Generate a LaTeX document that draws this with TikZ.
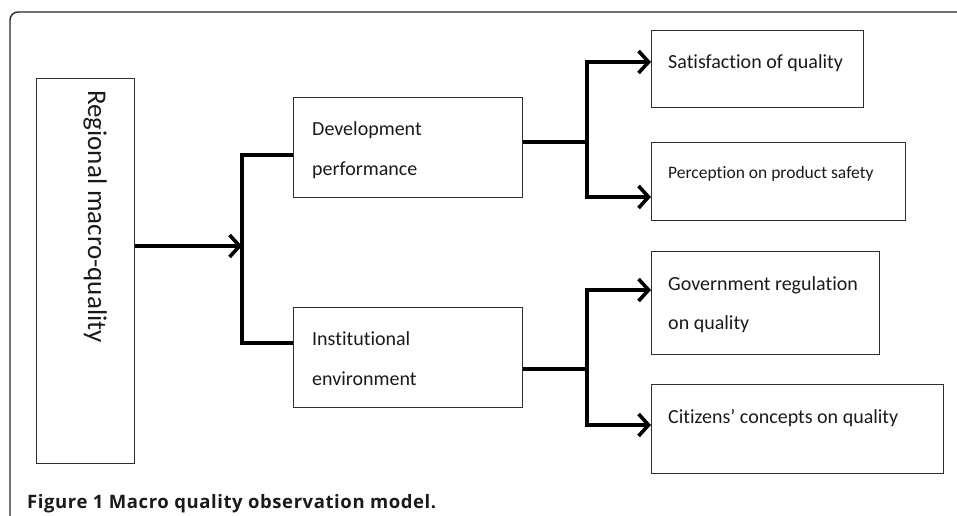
\documentclass[tikz,border=0pt]{standalone}
\usepackage{fontspec}
\setmainfont{Carlito}[Ligatures=NoCommon]
\newfontfamily\capfont{Open Sans}[LetterSpace=3.2]
\usetikzlibrary{arrows.meta}
\definecolor{boxline}{HTML}{2E2E2E}
\definecolor{txt}{HTML}{1A1A1A}
\begin{document}
\begin{tikzpicture}[x=1pt,y=-1pt,
  box/.style={draw=boxline,line width=1.3pt,anchor=north west,inner sep=0pt,minimum width=#1},
  lbl/.style={anchor=base west,inner sep=0pt,text=txt,align=left,font=\fontsize{20}{40}\selectfont},
  conn/.style={line width=3.6pt,black},
  arr/.style={conn,-{Straight Barb[length=10pt,width=22pt,line width=3.6pt]}}]
\useasboundingbox (0,0) rectangle (957,515);
% frame
\draw[line width=1.4pt,black!85,rounded corners=8pt] (10,520) -- (10,12) -- (962,12);
% boxes
\node[box=98pt,minimum height=385pt] (reg) at (36,78) {};
\node[box=229pt,minimum height=100pt] (dev) at (293,97) {};
\node[box=229pt,minimum height=100pt] (inst) at (293,307) {};
\node[box=212pt,minimum height=77pt] (sat) at (651,30) {};
\node[box=254pt,minimum height=78pt] (per) at (651,142) {};
\node[box=228pt,minimum height=103pt] (gov) at (651,251) {};
\node[box=292pt,minimum height=89pt] (cit) at (651,384) {};
% texts (multi-line nodes anchored at the baseline of their last line)
\node[anchor=base west,inner sep=0pt,rotate=-90,text=txt,font=\fontsize{27}{32}\selectfont] (regt) at (88,90) {Regional macro-quality};
\node[lbl] (devt) at (312,175) {Development\\performance};
\node[lbl] (instt) at (312,385) {Institutional\\environment};
\node[lbl] (satt) at (668,68) {Satisfaction of quality};
\node[lbl,font=\fontsize{17.5}{20}\selectfont] (pert) at (668,178) {Perception on product safety};
\node[lbl,font=\fontsize{20}{39}\selectfont] (govt) at (668,329) {Government regulation\\on quality};
\node[lbl] (citt) at (668,423) {Citizens’ concepts on quality};
\node[anchor=base west,inner sep=0pt,text=txt,font=\capfont\bfseries\fontsize{18.5}{20}\selectfont] (cap) at (27,508) {Figure 1 Macro quality observation model.};
% junction coordinates
\coordinate (j0) at (242,246);
\coordinate (j0a) at (242,155);
\coordinate (j0b) at (242,343);
\coordinate (j1) at (587,142);
\coordinate (j1a) at (587,62);
\coordinate (j1b) at (587,197);
\coordinate (j2) at (587,369);
\coordinate (j2a) at (587,290);
\coordinate (j2b) at (587,425);
% connectors
\draw[arr] (reg.east |- j0) -- (j0);
\draw[conn] (dev.west |- j0a) -- (j0a) -- (j0b) -- (inst.west |- j0b);
\draw[conn] (dev.east |- j1) -- (j1);
\draw[arr] (j1) -- (j1a) -- (sat.west |- j1a);
\draw[arr] (j1) -- (j1b) -- (per.west |- j1b);
\draw[conn] (inst.east |- j2) -- (j2);
\draw[arr] (j2) -- (j2a) -- (gov.west |- j2a);
\draw[arr] (j2) -- (j2b) -- (cit.west |- j2b);
\end{tikzpicture}
\end{document}
